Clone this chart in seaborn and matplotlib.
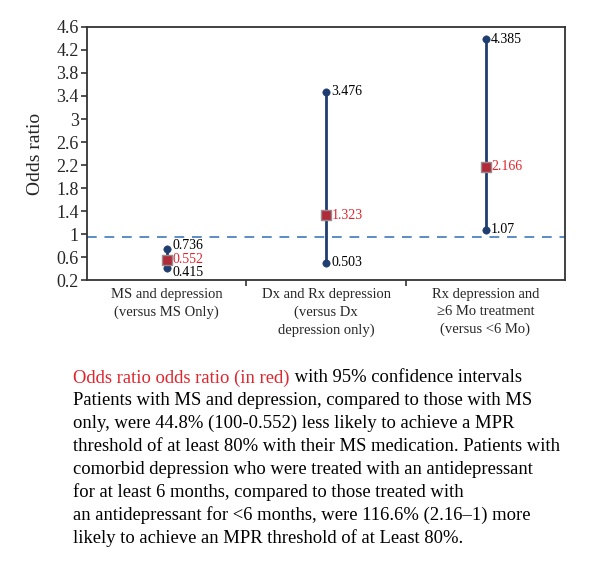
import pandas as pd
import matplotlib
matplotlib.use("Agg")
import matplotlib.pyplot as plt
import seaborn as sns

# dados
groups = ["MS", "DxRx", "Rx6"]
group_labels = [
    "MS and depression\n(versus MS Only)",
    "Dx and Rx depression\n(versus Dx\ndepression only)",
    "Rx depression and\n\u22656 Mo treatment\n(versus <6 Mo)",
]
odds_ratio = [0.552, 1.323, 2.166]
ci_lower = [0.415, 0.503, 1.07]
ci_upper = [0.736, 3.476, 4.385]
ref_line = 0.95

caption_red = "Odds ratio odds ratio (in red)"
caption_lines = [
    " with 95% confidence intervals",
    "Patients with MS and depression, compared to those with MS",
    "only, were 44.8% (100-0.552) less likely to achieve a MPR",
    "threshold of at least 80% with their MS medication. Patients with",
    "comorbid depression who were treated with an antidepressant",
    "for at least 6 months, compared to those treated with",
    "an antidepressant for <6 months, were 116.6% (2.16\u20131) more",
    "likely to achieve an MPR threshold of at Least 80%.",
]

sns.set_theme(style="white")
plt.rcParams["font.family"] = ["Liberation Serif", "DejaVu Serif"]

navy = "#1f3d6e"
red_txt = "#e0252d"

df = pd.DataFrame({"grupo": groups, "or": odds_ratio, "lo": ci_lower, "hi": ci_upper})

fig = plt.figure(figsize=(6, 5.83), dpi=100)
ax = fig.add_axes([0.145, 0.5197, 0.797, 0.434])

# linhas dos intervalos
ax.vlines(df["grupo"], df["lo"], df["hi"], color=navy, linewidth=2, zorder=2)
sns.scatterplot(data=df, x="grupo", y="lo", color=navy, s=28, edgecolor=navy, ax=ax, zorder=3)
sns.scatterplot(data=df, x="grupo", y="hi", color=navy, s=28, edgecolor=navy, ax=ax, zorder=3)
sns.scatterplot(data=df, x="grupo", y="or", marker="s", color="#b02a3a", s=55,
                edgecolor="#9a8a8c", linewidth=1, ax=ax, zorder=4)

ax.axhline(ref_line, color="#5b8cc6", linestyle=(0, (5, 4)), linewidth=1.4, zorder=1)

# deslocamento vertical dos rótulos (só o primeiro grupo fica apertado)
dy_hi = [3, 0, 0]
dy_lo = [-3.5, 0, 0]
lab_fs = 10
for i, row in df.iterrows():
    ax.annotate(f"{row['hi']:g}", (i, row["hi"]), xytext=(4, dy_hi[i]), textcoords="offset points",
                va="center", ha="left", fontsize=lab_fs, color="black")
    ax.annotate(f"{row['lo']:g}", (i, row["lo"]), xytext=(4, dy_lo[i]), textcoords="offset points",
                va="center", ha="left", fontsize=lab_fs, color="black")
    ax.annotate(f"{row['or']:g}", (i, row["or"]), xytext=(4, 0), textcoords="offset points",
                va="center", ha="left", fontsize=lab_fs, color=red_txt)

ax.set_xlim(-0.5, 2.5)
ax.set_ylim(0.2, 4.6)
ticks = [0.2 + 0.4 * k for k in range(12)]
ax.set_yticks(ticks)
ax.set_yticklabels([f"{t:.1f}".rstrip("0").rstrip(".") for t in ticks])
ax.set_xticks([0.5, 1.5])
ax.set_xticklabels([])
ax.set_xticks([0, 1, 2], minor=True)
ax.set_xticklabels(group_labels, minor=True, fontsize=10.5, linespacing=1.4, va="top")
ax.tick_params(axis="x", which="minor", length=0, pad=6)
ax.tick_params(axis="x", which="major", direction="out", length=4, width=1.2, color="#333333", bottom=True)
ax.tick_params(axis="y", direction="out", length=4, width=1.2, color="#333333", left=True,
               labelsize=13, pad=2)
ax.set_xlabel("")
ax.set_ylabel("Odds ratio", fontsize=14, labelpad=9)
for s in ax.spines.values():
    s.set_color("#333333")
    s.set_linewidth(1.3)

# texto explicativo abaixo do gráfico
cap_fs = 13.4
t0 = fig.text(73 / 600, 1 - 378 / 583, caption_red, color=red_txt, fontsize=cap_fs, va="center", ha="left")
ax.annotate(caption_lines[0], xy=(1, 0.5), xycoords=t0, va="center", ha="left",
            fontsize=cap_fs, color="black", annotation_clip=False)
for k, line in enumerate(caption_lines[1:]):
    y = 378 + 22.9 * (k + 1)
    fig.text(73 / 600, 1 - y / 583, line, fontsize=cap_fs, va="center", ha="left", color="black")

plt.savefig("out.png", dpi=100)
